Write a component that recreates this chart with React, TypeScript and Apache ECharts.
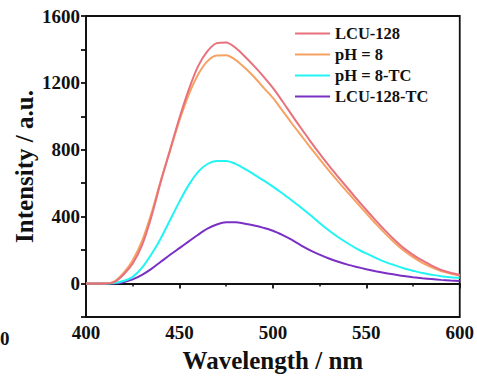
import React, { useEffect, useRef } from "react";
import * as echarts from "echarts";

const wavelengths = [400, 405, 410, 415, 420, 425, 430, 435, 440, 445, 450, 455, 460, 465, 470, 475, 480, 485, 490, 495, 500, 505, 510, 515, 520, 525, 530, 535, 540, 545, 550, 555, 560, 565, 570, 575, 580, 585, 590, 595, 600];
const lcu128 = [0, 0, 0, 8, 53, 120, 230, 400, 608, 800, 990, 1160, 1300, 1390, 1438, 1442, 1410, 1358, 1300, 1238, 1170, 1092, 1010, 930, 852, 777, 705, 637, 570, 504, 440, 378, 318, 262, 212, 172, 138, 107, 82, 65, 53];
const ph8 = [0, 0, 0, 12, 62, 140, 255, 420, 615, 795, 975, 1130, 1250, 1330, 1364, 1366, 1338, 1290, 1235, 1172, 1110, 1036, 960, 887, 815, 744, 675, 609, 545, 482, 420, 358, 300, 246, 198, 158, 124, 97, 75, 60, 48];
const ph8TC = [0, 0, 0, 3, 15, 40, 95, 175, 270, 380, 490, 590, 668, 715, 733, 733, 716, 686, 652, 617, 580, 540, 498, 455, 410, 362, 317, 277, 241, 208, 180, 154, 130, 110, 92, 77, 63, 53, 44, 38, 34];
const lcu128TC = [0, 0, 0, 0, 8, 25, 52, 88, 130, 172, 212, 252, 292, 328, 353, 366, 366, 358, 347, 333, 316, 291, 262, 229, 199, 173, 150, 130, 113, 99, 86, 74, 63, 54, 45, 38, 32, 27, 22, 18, 15];
const seriesNames = ["LCU-128", "pH = 8", "pH = 8-TC", "LCU-128-TC"];
const seriesColors = ["#e8717c", "#f5a263", "#22f4f4", "#7a30c4"];
const yTickLabels = [0, 400, 800, 1200, 1600];

export default function App() {
  const ref = useRef<HTMLDivElement>(null);
  useEffect(() => {
    if (!ref.current) return;
    const chart = echarts.init(ref.current, undefined, { renderer: "svg" });
    const allData = [lcu128, ph8, ph8TC, lcu128TC];
    const font = "'Liberation Serif', 'Times New Roman', serif";
    chart.setOption({
      animation: false,
      backgroundColor: "#ffffff",
      grid: { left: 86, right: 17, top: 16, bottom: 59, show: true, borderColor: "#111", borderWidth: 1.8, backgroundColor: "transparent" },
      legend: {
        data: seriesNames,
        orient: "vertical",
        left: 290,
        top: 20,
        itemWidth: 35,
        itemHeight: 2,
        itemGap: 4,
        icon: "rect",
        textStyle: { fontFamily: font, fontWeight: "bold", fontSize: 16.5, color: "#111", padding: [0, 0, 0, 0] },
      },
      xAxis: {
        type: "value",
        min: 400,
        max: 600,
        interval: 50,
        name: "Wavelength / nm",
        nameLocation: "middle",
        nameGap: 31,
        nameMoveOverlap: false,
        nameTextStyle: { fontFamily: font, fontWeight: "bold", fontSize: 25, color: "#111" },
        axisLine: { show: true, lineStyle: { color: "#111", width: 1.8 } },
        axisTick: { show: true, length: 5, lineStyle: { color: "#111", width: 1.8 } },
        minorTick: { show: true, splitNumber: 2, length: 3, lineStyle: { color: "#111", width: 1.5 } },
        axisLabel: { fontFamily: font, fontWeight: "bold", fontSize: 19, color: "#111", margin: 6 },
        splitLine: { show: false },
      },
      yAxis: {
        type: "value",
        min: -200,
        max: 1600,
        interval: 200,
        name: "Intensity / a.u.",
        nameLocation: "middle",
        nameGap: 49,
        nameMoveOverlap: false,
        nameTextStyle: { fontFamily: font, fontWeight: "bold", fontSize: 25, color: "#111" },
        axisLine: { show: true, lineStyle: { color: "#111", width: 1.8 } },
        axisTick: { show: true, length: 5, lineStyle: { color: "#111", width: 1.8 } },
        axisLabel: {
          fontFamily: font,
          fontWeight: "bold",
          fontSize: 19,
          color: "#111",
          margin: 6,
          formatter: (v: number) => (yTickLabels.indexOf(v) >= 0 ? String(v) : ""),
        },
        splitLine: { show: false },
      },
      graphic: [
        {
          type: "text",
          left: -19,
          top: 329,
          style: { text: "400", fontFamily: font, fontWeight: "bold", fontSize: 19, fill: "#111" },
        },
      ],
      series: seriesNames.map((name, i) => ({
        name,
        type: "line",
        smooth: 0.3,
        showSymbol: false,
        symbol: "none",
        color: seriesColors[i],
        lineStyle: { width: 2, color: seriesColors[i] },
        data: wavelengths.map((w, j) => [w, allData[i][j]]),
        z: 10 - i,
      })),
    });
    return () => chart.dispose();
  }, []);
  return <div ref={ref} style={{ position: "absolute", left: 0, top: 0, width: 477, height: 378 }} />;
}
